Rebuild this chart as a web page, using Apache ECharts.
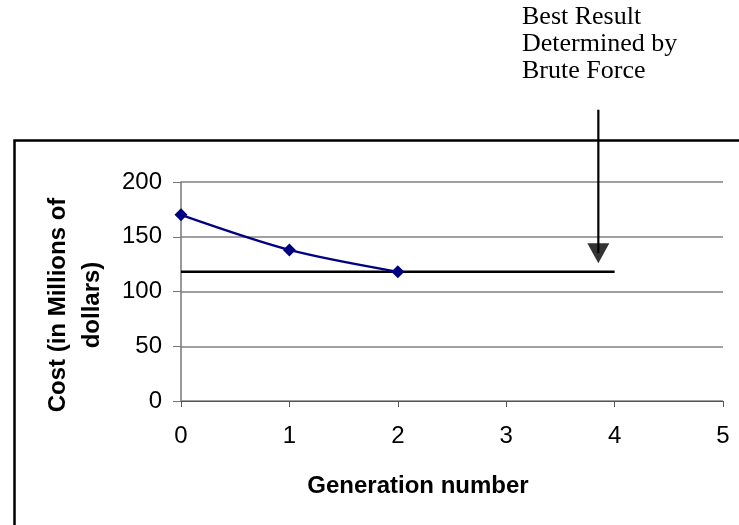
<!DOCTYPE html>
<html>
<head>
<meta charset="utf-8">
<script src="https://cdn.jsdelivr.net/npm/echarts@6/dist/echarts.min.js"></script>
<style>html,body{margin:0;padding:0;background:#fff;}#c{width:739px;height:525px;}</style>
</head>
<body>
<div id="c"></div>
<script>
// ---- data ----
const generations = [0, 1, 2];
const costs = [170, 138, 118];
const bestX = [0, 4];
const bestCost = 118;
const arrowX = 3.85;
const arrowFrom = 266;
const arrowHead = 135;
const xTicks = [0, 1, 2, 3, 4, 5];
const yTicks = [0, 50, 100, 150, 200];
const annotation = ['Best Result', 'Determined by', 'Brute Force'];
const xTitle = 'Generation number';
const yTitle = ['Cost (in Millions of', 'dollars)'];

const chart = echarts.init(document.getElementById('c'), null, {renderer: 'canvas'});
const sans = 'Liberation Sans, Arial, sans-serif';
const serif = 'Liberation Serif, Times New Roman, serif';

chart.setOption({
  animation: false,
  backgroundColor: '#fff',
  grid: {left: 181, right: 16, top: 182, bottom: 124, containLabel: false},
  xAxis: {
    type: 'value',
    min: xTicks[0], max: xTicks[xTicks.length - 1], interval: 1,
    axisLine: {show: true, lineStyle: {color: '#555', width: 1}},
    axisTick: {show: true, length: 6, lineStyle: {color: '#555', width: 1}},
    axisLabel: {fontFamily: sans, fontSize: 24, color: '#000', margin: 23},
    splitLine: {show: false}
  },
  yAxis: {
    type: 'value',
    min: yTicks[0], max: yTicks[yTicks.length - 1], interval: 50,
    axisLine: {show: true, lineStyle: {color: '#777', width: 1.5}},
    axisTick: {show: true, length: 8, lineStyle: {color: '#777', width: 1}},
    axisLabel: {fontFamily: sans, fontSize: 24, color: '#000', margin: 19},
    splitLine: {show: true, lineStyle: {color: '#808080', width: 1.5}}
  },
  graphic: [
    {type: 'rect', silent: true, shape: {x: 14.5, y: 140.5, width: 800, height: 450},
     style: {fill: 'none', stroke: '#000', lineWidth: 2.5}},
    {type: 'text', silent: true, x: 522, y: 4,
     style: {text: annotation.join('\n'), font: '26px ' + serif, fill: '#000', lineHeight: 27, textAlign: 'left', textVerticalAlign: 'top'}},
    {type: 'text', silent: true, x: 418, y: 486,
     style: {text: xTitle, font: 'bold 24px ' + sans, fill: '#000', textAlign: 'center', textVerticalAlign: 'middle'}},
    {type: 'text', silent: true, x: 75, y: 305, rotation: Math.PI / 2,
     style: {text: yTitle.join('\n'), font: 'bold 24px ' + sans, fill: '#000', lineHeight: 34, textAlign: 'center', textVerticalAlign: 'middle'}}
  ],
  series: [
    {
      name: 'Best', type: 'line', z: 2, clip: false,
      data: bestX.map(x => [x, bestCost]),
      showSymbol: false, symbol: 'none',
      lineStyle: {color: '#000', width: 2.5}
    },
    {
      name: 'Arrow', type: 'line', z: 2, clip: false,
      data: [[arrowX, arrowFrom], [arrowX, arrowHead]],
      symbol: 'none',
      lineStyle: {color: '#000', width: 2.2}
    },
    {
      name: 'ArrowHead', type: 'scatter', z: 3, clip: false,
      data: [[arrowX, arrowHead]],
      symbol: 'triangle', symbolRotate: 180, symbolSize: [22, 20],
      itemStyle: {color: '#000'}
    },
    {
      name: 'Cost', type: 'line', z: 5,
      data: generations.map((g, i) => [g, costs[i]]),
      smooth: 0.3,
      symbol: 'diamond', symbolSize: 13, showSymbol: true,
      lineStyle: {color: '#000080', width: 2.2},
      itemStyle: {color: '#000080'}
    }
  ]
});
</script>
</body>
</html>
